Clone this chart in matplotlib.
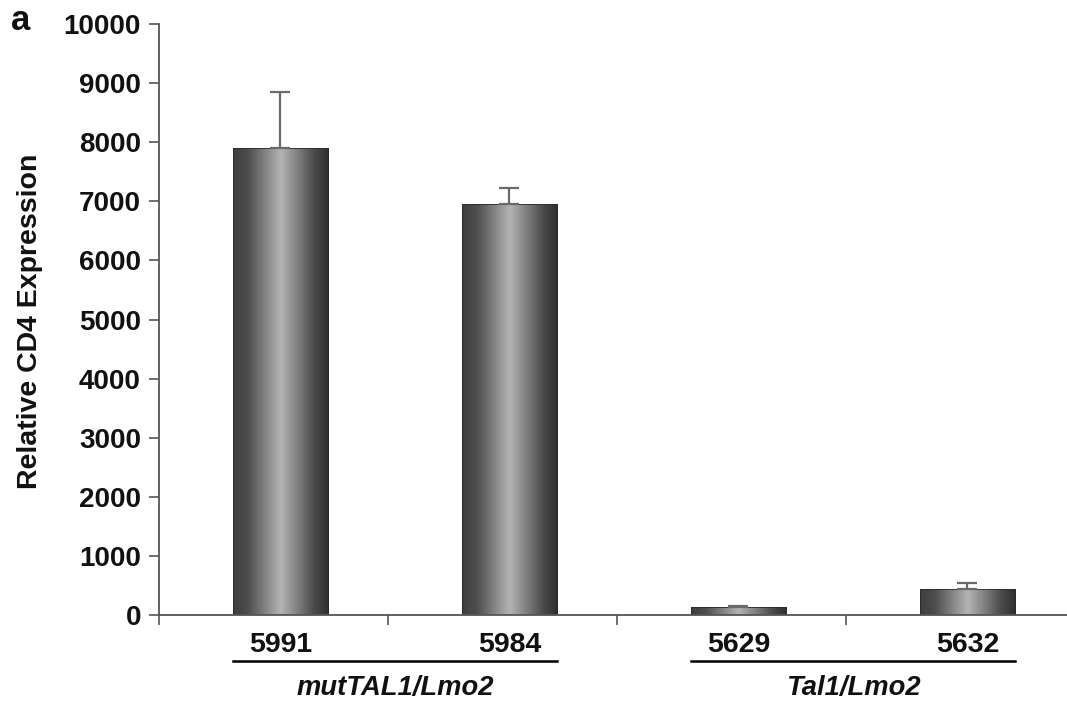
import numpy as np
import matplotlib
matplotlib.use("Agg")
import matplotlib.pyplot as plt
from matplotlib.colors import LinearSegmentedColormap
from matplotlib.transforms import blended_transform_factory

plt.rcParams['font.family'] = ['Liberation Sans', 'DejaVu Sans']

samples = ["5991", "5984", "5629", "5632"]
values = [7900, 6950, 130, 440]
errors = [950, 280, 30, 100]
groups = ["mutTAL1/Lmo2", "Tal1/Lmo2"]
group_members = [[0, 1], [2, 3]]
yticks = [0, 1000, 2000, 3000, 4000, 5000, 6000, 7000, 8000, 9000, 10000]

fig = plt.figure(figsize=(10.67, 7.06), dpi=100)
ax = fig.add_axes([159/1067, 91/706, 1 - 159/1067, (615-24)/706])

x = np.arange(len(samples))
width = 0.415
shift = 0.53
bars = ax.bar(x, values, width=width, color='none', edgecolor='#2a2a2a', linewidth=0.6, zorder=2)

cmap = LinearSegmentedColormap.from_list('cyl', [
    (0.0, '#3e3e3e'), (0.15, '#4c4c4c'), (0.5, '#b4b4b4'), (0.85, '#4a4a4a'), (1.0, '#2e2e2e')])
grad = np.linspace(0, 1, 256).reshape(1, -1)
for b in bars:
    x0, y0 = b.get_x(), b.get_y()
    w, h = b.get_width(), b.get_height()
    im = ax.imshow(grad, cmap=cmap, aspect='auto', extent=[x0, x0 + w, y0, y0 + h],
                   zorder=1.5, interpolation='bicubic')
    im.set_clip_path(b)

ax.errorbar(x, values, yerr=[np.zeros(len(errors)), errors], fmt='none',
            ecolor='#6a6a6a', elinewidth=1.6, capsize=7.5, capthick=1.6, zorder=3)

ax.set_xlim(-shift, len(samples) - shift - 0.035)
ax.set_ylim(0, 10000)
ax.set_yticks(yticks)
ax.set_yticklabels([str(t) for t in yticks], fontsize=20, fontweight='bold', color='#111111')
ax.set_xticks(np.arange(len(samples)) - shift)
ax.set_xticklabels([])
ax.tick_params(axis='y', length=7, width=1.2, color='#555555', pad=6)
ax.tick_params(axis='x', length=7, width=1.2, color='#555555')
for s in ['top', 'right']:
    ax.spines[s].set_visible(False)
for s in ['left', 'bottom']:
    ax.spines[s].set_color('#555555')
    ax.spines[s].set_linewidth(1.3)

trans = blended_transform_factory(ax.transData, ax.transAxes)
for xi, lab in zip(x, samples):
    ax.text(xi, -0.0285, lab, transform=trans, ha='center', va='top',
            fontsize=20.5, fontweight='bold', color='#111111')

for g, members in zip(groups, group_members):
    left = x[members[0]] - width / 2
    right = x[members[-1]] + width / 2
    ax.plot([left, right], [-0.078, -0.078], transform=trans, color='black',
            lw=1.8, clip_on=False)
    ax.text((left + right) / 2, -0.124, g, transform=trans, ha='center', va='center',
            fontsize=19.7, fontweight='bold', style='italic', color='#111111')

fig.text(30/1067, 1 - 321/706, "Relative CD4 Expression", rotation=90, ha='center',
         va='center', fontsize=20.5, fontweight='bold', color='#111111')
fig.text(21/1067, 1 - 20/706, "a", ha='center', va='center', fontsize=25,
         fontweight='bold', color='#111111')

fig.savefig("out.png", dpi=100)
